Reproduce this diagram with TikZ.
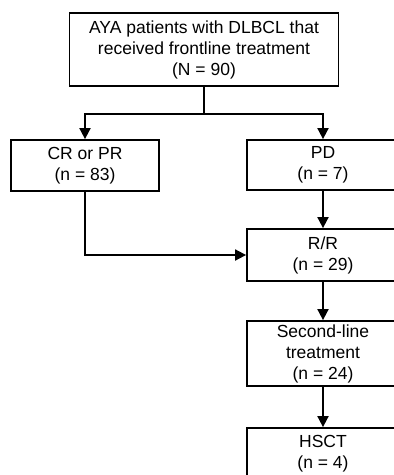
\documentclass[tikz,border=0pt]{standalone}
\usepackage{fontspec}
\setmainfont{Liberation Sans}
\usetikzlibrary{arrows.meta}
\begin{document}
\begin{tikzpicture}[x=1pt,y=-1pt,
  box/.style={draw,line width=1.8pt,inner sep=0pt,align=center,
    font=\fontsize{17.5}{21}\selectfont},
  arr/.style={line width=1.8pt,-{Triangle[width=11pt,length=11pt]}},
  ln/.style={line width=1.8pt}]
\useasboundingbox (0,0) rectangle (394,475);
\clip (0,0) rectangle (394,475);
\node[box,minimum width=269pt,minimum height=73pt] (top) at (204,49.5)
  {AYA patients with DLBCL that\\received frontline treatment\\(N = 90)};
\node[box,minimum width=148pt,minimum height=51pt] (cr) at (85,165.5)
  {CR or PR\\(n = 83)};
\node[box,minimum width=152pt,minimum height=50pt] (pd) at (323,165)
  {PD\\(n = 7)};
\node[box,minimum width=152pt,minimum height=52pt] (rr) at (323,255)
  {R/R\\(n = 29)};
\node[box,minimum width=152pt,minimum height=65pt] (sl) at (323,353.5)
  {Second-line\\treatment\\(n = 24)};
\node[box,minimum width=152pt,minimum height=52pt] (hs) at (323,454)
  {HSCT\\(n = 4)};
\path (top.south) ++(0,27) coordinate (s);
\draw[ln] (top.south) -- (s);
\draw[arr] (s) -| (cr.north);
\draw[arr] (s) -| (pd.north);
\draw[arr] (pd.south) -- (rr.north);
\draw[arr] (cr.south) |- (rr.west);
\draw[arr] (rr.south) -- (sl.north);
\draw[arr] (sl.south) -- (hs.north);
\end{tikzpicture}
\end{document}
